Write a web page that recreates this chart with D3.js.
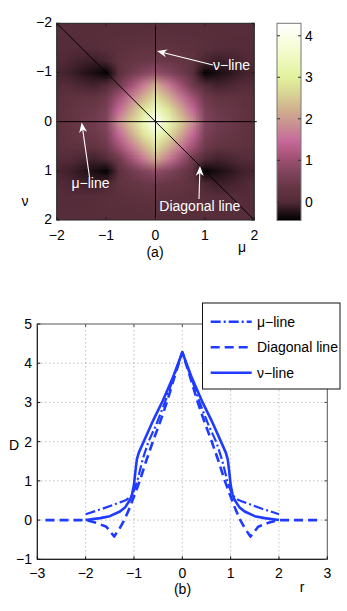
<!DOCTYPE html>
<html><head><meta charset="utf-8">
<script src="https://cdn.jsdelivr.net/npm/d3@7"></script>
<style>
html,body{margin:0;padding:0;background:#fff;}
svg{display:block;font-family:"Liberation Sans",Arial,Helvetica,sans-serif;}
</style></head><body>
<svg id="chart" width="347" height="611"></svg>
<script>
// ---------------- data ----------------
// panel (a): heat map, one quadrant (|nu| rows, |mu| columns), mirrored to the other quadrants
const heatTicks = [-2, -1, 0, 1, 2];
const quadStep = [0, 0.25, 0.5, 0.75, 1, 1.25, 1.5, 1.75, 2];
const quadD = [
  [4.28, 3.35, 2.55, 1.85, 0.75, 0.50, 0.42, 0.30, 0.20],
  [3.45, 2.85, 2.15, 1.45, 0.62, 0.42, 0.36, 0.28, 0.18],
  [2.80, 2.25, 1.65, 1.05, 0.45, 0.30, 0.26, 0.22, 0.15],
  [2.20, 1.65, 1.05, 0.45, 0.02, -0.08, -0.04, 0.02, 0.05],
  [0.90, 0.72, 0.48, 0.18, -0.42, -0.30, -0.20, -0.10, -0.05],
  [0.42, 0.38, 0.32, 0.22, -0.04, -0.12, -0.08, -0.03, 0.02],
  [0.28, 0.25, 0.22, 0.18, 0.12, 0.06, 0.04, 0.04, 0.05],
  [0.16, 0.15, 0.14, 0.13, 0.12, 0.09, 0.07, 0.06, 0.06],
  [0.10, 0.10, 0.10, 0.10, 0.10, 0.08, 0.07, 0.06, 0.06]
];
const colorbarTicks = [0, 1, 2, 3, 4];
const colorbarRange = [-0.45, 4.3];
const cmapValues = [-0.45, -0.2, 0, 0.3, 0.7, 1.1, 1.45, 1.85, 2.2, 2.6, 3.0, 3.6, 4.3];
const cmapColors = ["#000000", "#2c151d", "#532b38", "#633442", "#7e435b", "#a65377",
                    "#c6689a", "#c98f92", "#cfae8e", "#d8d394", "#e2f29e", "#f3fbca", "#ffffff"];

// panel (b): profiles
const rTicks = [-3, -2, -1, 0, 1, 2, 3];
const dTicks = [-1, 0, 1, 2, 3, 4, 5];
const muLineR = [-2, -1.8, -1.65, -1.45, -1.25, -1.15, -1.05, -1.0, -0.93, -0.82, -0.7, -0.55, -0.36, -0.15, 0,
                 0.15, 0.36, 0.55, 0.7, 0.82, 0.93, 1.0, 1.05, 1.15, 1.25, 1.45, 1.65, 1.8, 2];
const muLineD = [0.15, 0.23, 0.29, 0.38, 0.47, 0.52, 0.62, 0.75, 1.0, 1.55, 2.0, 2.4, 3.0, 3.75, 4.28,
                 3.75, 3.0, 2.4, 2.0, 1.55, 1.0, 0.75, 0.62, 0.52, 0.47, 0.38, 0.29, 0.23, 0.15];
const diagR = [-2.83, -2.0, -1.9, -1.78, -1.57, -1.5, -1.41, -1.3, -1.2, -1.1, -1.0, -0.88, -0.75, -0.61, -0.46, -0.32, -0.15, 0,
               0.15, 0.32, 0.46, 0.61, 0.75, 0.88, 1.0, 1.1, 1.2, 1.3, 1.41, 1.5, 1.57, 1.78, 1.9, 2.0, 2.83];
const diagD = [0, 0, -0.03, -0.07, -0.17, -0.28, -0.42, -0.22, 0.0, 0.28, 0.6, 1.0, 1.5, 2.0, 2.5, 3.0, 3.7, 4.28,
               3.7, 3.0, 2.5, 2.0, 1.5, 1.0, 0.6, 0.28, 0.0, -0.22, -0.42, -0.28, -0.17, -0.07, -0.03, 0, 0];
const nuLineR = [-2, -1.7, -1.5, -1.29, -1.18, -1.08, -1.04, -1.0, -0.97, -0.94, -0.9, -0.8, -0.6, -0.42, -0.2, 0,
                 0.2, 0.42, 0.6, 0.8, 0.9, 0.94, 0.97, 1.0, 1.04, 1.08, 1.18, 1.29, 1.5, 1.7, 2];
const nuLineD = [0.0, 0.05, 0.1, 0.22, 0.33, 0.52, 0.65, 0.9, 1.25, 1.55, 1.72, 2.0, 2.55, 3.0, 3.62, 4.28,
                 3.62, 3.0, 2.55, 2.0, 1.72, 1.55, 1.25, 0.9, 0.65, 0.52, 0.33, 0.22, 0.1, 0.05, 0.0];
const legendLabels = ["\u03bc\u2212line", "Diagonal line", "\u03bd\u2212line"];

// ---------------- drawing ----------------
const svg = d3.select("#chart");
const minus = s => String(s).replace("-", "\u2212");
const FONT = 14;

// ===== panel (a) =====
const xH = d3.scaleLinear([-2, 2], [56.7, 254.3]);
const yH = d3.scaleLinear([-2, 2], [23.3, 220]);
const cmap = d3.scaleLinear(cmapValues, cmapColors).interpolate(d3.interpolateRgb).clamp(true);

const fullN = quadStep.length * 2 - 1; // 17
const mid = quadStep.length - 1;
const canvas = document.createElement("canvas");
canvas.width = fullN; canvas.height = fullN;
const ctx = canvas.getContext("2d");
for (let j = 0; j < fullN; j++) {
  for (let i = 0; i < fullN; i++) {
    const v = quadD[Math.abs(j - mid)][Math.abs(i - mid)];
    ctx.fillStyle = cmap(v);
    ctx.fillRect(i, j, 1, 1);
  }
}
const half = (quadStep[1] - quadStep[0]) / 2;
svg.append("clipPath").attr("id", "heatClip").append("rect")
  .attr("x", xH(-2)).attr("y", yH(-2)).attr("width", xH(2) - xH(-2)).attr("height", yH(2) - yH(-2));
svg.append("g").attr("clip-path", "url(#heatClip)").append("image")
  .attr("href", canvas.toDataURL())
  .attr("x", xH(-2 - half)).attr("y", yH(-2 - half))
  .attr("width", xH(2 + half) - xH(-2 - half)).attr("height", yH(2 + half) - yH(-2 - half))
  .attr("preserveAspectRatio", "none")
  .style("image-rendering", "auto");

// reference lines
const gA = svg.append("g");
gA.append("line").attr("x1", xH(0)).attr("x2", xH(0)).attr("y1", yH(-2)).attr("y2", yH(2)).attr("stroke", "#000").attr("stroke-width", 1);
gA.append("line").attr("x1", xH(-2)).attr("x2", xH(2.05)).attr("y1", yH(0)).attr("y2", yH(0)).attr("stroke", "#000").attr("stroke-width", 1);
gA.append("line").attr("x1", xH(-2)).attr("x2", xH(2)).attr("y1", yH(-2)).attr("y2", yH(2)).attr("stroke", "#000").attr("stroke-width", 1);

// axes (a)
gA.append("rect").attr("x", xH(-2)).attr("y", yH(-2)).attr("width", xH(2) - xH(-2)).attr("height", yH(2) - yH(-2))
  .attr("fill", "none").attr("stroke", "#222").attr("stroke-width", 1);
const axA = svg.append("g").attr("font-size", FONT);
heatTicks.forEach(t => {
  axA.append("text").attr("x", xH(t)).attr("y", 239.5).attr("text-anchor", "middle").text(minus(t));
  axA.append("text").attr("x", 52).attr("y", yH(t) + 4).attr("text-anchor", "end").text(minus(t));
  [[xH(t), yH(2), xH(t), yH(2) - 3], [xH(t), yH(-2), xH(t), yH(-2) + 3],
   [xH(-2), yH(t), xH(-2) + 3, yH(t)], [xH(2), yH(t), xH(2) - 3, yH(t)]].forEach(c =>
    axA.append("line").attr("x1", c[0]).attr("y1", c[1]).attr("x2", c[2]).attr("y2", c[3]).attr("stroke", "#222"));
});
axA.append("text").attr("x", 155).attr("y", 257).attr("text-anchor", "middle").text("(a)");
axA.append("text").attr("x", 242).attr("y", 252).attr("text-anchor", "middle").text("\u03bc");
axA.append("text").attr("x", 25).attr("y", 206).attr("text-anchor", "middle").text("\u03bd");

// annotations
function arrow(g, x0, y0, x1, y1) {
  const a = Math.atan2(y1 - y0, x1 - x0), L = 10, W = 8;
  const c = Math.cos(a), s = Math.sin(a);
  const pt = (dx, dy) => [x1 + dx * c - dy * s, y1 + dx * s + dy * c];
  const back = pt(-L * 0.7, 0);
  g.append("line").attr("x1", x0).attr("y1", y0).attr("x2", back[0]).attr("y2", back[1])
    .attr("stroke", "#fff").attr("stroke-width", 1.1);
  g.append("path").attr("d", "M" + [pt(0, 0), pt(-L, -W / 2), back, pt(-L, W / 2)].map(p => p.join(",")).join("L") + "Z")
    .attr("fill", "#fff");
}
const ann = svg.append("g").attr("font-size", FONT).attr("fill", "#fff");
ann.append("text").attr("x", 213).attr("y", 70).text("\u03bd\u2212line");
arrow(ann, 213, 65, 157, 51);
ann.append("text").attr("x", 71.5).attr("y", 188).text("\u03bc\u2212line");
arrow(ann, 89.5, 177, 81.7, 122.5);
ann.append("text").attr("x", 159.3).attr("y", 211).text("Diagonal line");
arrow(ann, 199, 199, 200, 166);

// colorbar
const cbX = 277, cbW = 24;
const yCB = d3.scaleLinear(colorbarRange, [220.5, 23.3]);
const grad = svg.append("defs").append("linearGradient").attr("id", "cbGrad")
  .attr("x1", 0).attr("y1", 1).attr("x2", 0).attr("y2", 0);
cmapValues.forEach((v, i) => grad.append("stop")
  .attr("offset", (v - colorbarRange[0]) / (colorbarRange[1] - colorbarRange[0]))
  .attr("stop-color", cmapColors[i]));
svg.append("rect").attr("x", cbX).attr("y", yCB(colorbarRange[1])).attr("width", cbW)
  .attr("height", yCB(colorbarRange[0]) - yCB(colorbarRange[1])).attr("fill", "url(#cbGrad)")
  .attr("stroke", "#777").attr("stroke-width", 1);
const cbAx = svg.append("g").attr("font-size", FONT);
colorbarTicks.forEach(t => {
  cbAx.append("line").attr("x1", cbX + cbW).attr("x2", cbX + cbW - 3).attr("y1", yCB(t)).attr("y2", yCB(t)).attr("stroke", "#333");
  cbAx.append("line").attr("x1", cbX).attr("x2", cbX + 3).attr("y1", yCB(t)).attr("y2", yCB(t)).attr("stroke", "#333");
  cbAx.append("text").attr("x", 305).attr("y", yCB(t) + 5).text(minus(t));
});

// ===== panel (b) =====
const xB = d3.scaleLinear([-3, 3], [37.3, 327.3]);
const yB = d3.scaleLinear([-1, 5], [559.3, 324]);
const gB = svg.append("g");
// grid
rTicks.slice(1, -1).forEach(t => gB.append("line").attr("x1", xB(t)).attr("x2", xB(t)).attr("y1", yB(-1)).attr("y2", yB(5))
  .attr("stroke", "#8a8a8a").attr("stroke-width", 0.8).attr("stroke-dasharray", "1,3"));
dTicks.slice(1, -1).forEach(t => gB.append("line").attr("x1", xB(-3)).attr("x2", xB(3)).attr("y1", yB(t)).attr("y2", yB(t))
  .attr("stroke", "#8a8a8a").attr("stroke-width", 0.8).attr("stroke-dasharray", "1,3"));
// frame
gB.append("rect").attr("x", xB(-3)).attr("y", yB(5)).attr("width", xB(3) - xB(-3)).attr("height", yB(-1) - yB(5))
  .attr("fill", "none").attr("stroke", "#555").attr("stroke-width", 1);
gB.append("path").attr("d", `M${xB(-3)},${yB(5)}V${yB(-1)}H${xB(3)}`).attr("fill", "none").attr("stroke", "#111").attr("stroke-width", 1);
const axB = svg.append("g").attr("font-size", FONT);
rTicks.forEach(t => {
  axB.append("text").attr("x", xB(t)).attr("y", 578).attr("text-anchor", "middle").text(minus(t));
  axB.append("line").attr("x1", xB(t)).attr("x2", xB(t)).attr("y1", yB(-1)).attr("y2", yB(-1) - 3).attr("stroke", "#111");
  axB.append("line").attr("x1", xB(t)).attr("x2", xB(t)).attr("y1", yB(5)).attr("y2", yB(5) + 3).attr("stroke", "#555");
});
dTicks.forEach(t => {
  axB.append("text").attr("x", 32).attr("y", yB(t) + 5).attr("text-anchor", "end").text(minus(t));
  axB.append("line").attr("x1", xB(-3)).attr("x2", xB(-3) + 3).attr("y1", yB(t)).attr("y2", yB(t)).attr("stroke", "#111");
  axB.append("line").attr("x1", xB(3)).attr("x2", xB(3) - 3).attr("y1", yB(t)).attr("y2", yB(t)).attr("stroke", "#555");
});
axB.append("text").attr("x", 182.5).attr("y", 594).attr("text-anchor", "middle").text("(b)");
axB.append("text").attr("x", 302).attr("y", 592).attr("text-anchor", "middle").text("r");
axB.append("text").attr("x", 14).attr("y", 450).attr("text-anchor", "middle").text("D");

const BLUE = "#1f3bff";
const styles = [
  {r: muLineR, d: muLineD, dash: "10,3,2,3", w: 2.2},
  {r: diagR, d: diagD, dash: "9,5", w: 2.6},
  {r: nuLineR, d: nuLineD, dash: null, w: 2.6}
];
const line = d3.line().x(p => xB(p[0])).y(p => yB(p[1]));
styles.forEach(s => {
  const pts = s.r.map((r, i) => [r, s.d[i]]);
  const p = gB.append("path").attr("d", line(pts)).attr("fill", "none").attr("stroke", BLUE)
    .attr("stroke-width", s.w).attr("stroke-linejoin", "round");
  if (s.dash) p.attr("stroke-dasharray", s.dash);
});

// legend
const lg = svg.append("g");
lg.append("rect").attr("x", 202.5).attr("y", 303).attr("width", 137.5).attr("height", 86)
  .attr("fill", "#fff").attr("stroke", "#111").attr("stroke-width", 1);
const rowsY = [321.7, 347.3, 372.7];
styles.forEach((s, i) => {
  const l = lg.append("line").attr("x1", 210.7).attr("x2", 251.7).attr("y1", rowsY[i]).attr("y2", rowsY[i])
    .attr("stroke", BLUE).attr("stroke-width", 2.6);
  if (s.dash) l.attr("stroke-dasharray", s.dash);
  lg.append("text").attr("x", 257).attr("y", rowsY[i] + 5).attr("font-size", FONT).text(legendLabels[i]);
});
</script>
</body></html>
